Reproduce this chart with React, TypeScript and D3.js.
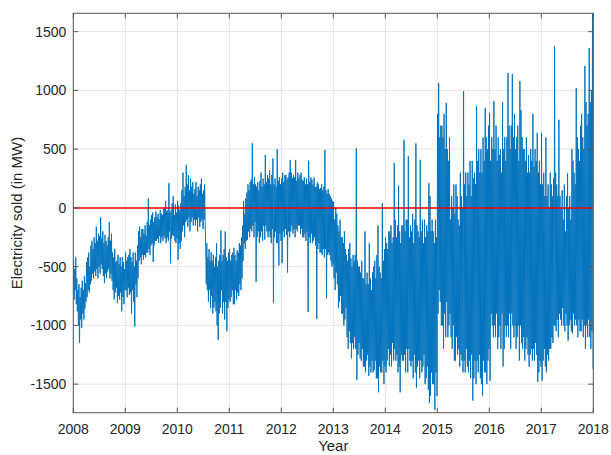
import React from 'react';
import * as d3 from 'd3';

// Electricity sold (MW) at ~8 readings per month
const sold2008 = [
  -450, -780, -520, -700, -420, -820, -600, -880, -700, -1000, -650, -1150, -760, -950, -680, -1020,
  -620, -900, -700, -950, -580, -860, -640, -800, -460, -760, -420, -700, -380, -720, -500, -650,
  -320, -620, -280, -560, -350, -600, -250, -540, -300, -580, -160, -520, -280, -600, -220, -500,
  -240, -560, -80, -480, -260, -520, -200, -580, -300, -640, -230, -560, -280, -600, -320, -540,
  -250, -520, -120, -600, -280, -560, -220, -620, -380, -700, -420, -780, -350, -720, -460, -680,
  -450, -810, -400, -750, -480, -780, -420, -720, -500, -880, -420, -760, -460, -820, -520, -700,
];
const sold2009 = [
  -380, -700, -450, -760, -420, -680, -400, -740, -350, -720, -420, -900, -460, -700, -380, -800,
  -500, -1010, -380, -650, -450, -760, -320, -600, -200, -450, -160, -420, -250, -480, -180, -400,
  -180, -440, -220, -400, -150, -420, -240, -380, -120, -380, 80, -350, -150, -400, -100, -320,
  -60, -300, -40, -460, -120, -320, -80, -280, -30, -280, -80, -260, -50, -300, -100, -240,
  -20, -300, -50, -250, -60, -280, -10, -240, 0, -260, 60, -300, -30, -250, -20, -280,
  210, -200, -40, -470, -20, -260, 40, -230, 100, -240, -60, -280, 30, -300, -40, -260,
];
const sold2010 = [
  60, -440, 20, -300, -20, -350, 40, -280, 150, -200, 300, -150, 100, -250, 180, -120,
  366, -100, 200, -160, 280, -80, 150, -200, 250, -120, 180, -80, 220, -150, 120, -100,
  160, -150, 220, -100, 100, -200, 180, -80, 150, -160, 200, -120, 250, -100, 120, -180,
  150, -100, 200, -150, -350, -650, -300, -700, -420, -800, -350, -700, -450, -850, -380, -750,
  -450, -900, -400, -850, -500, -800, -420, -880, -300, -1000, -500, -1123, -450, -900, -400, -850,
  -190, -700, -450, -900, -400, -800, -350, -950, -200, -800, -420, -1050, -450, -850, -380, -780,
];
const sold2011 = [
  -350, -800, -450, -760, -400, -700, -380, -820, -340, -820, -400, -700, -450, -780, -360, -720,
  -380, -750, -300, -650, -320, -700, -250, -600, -150, -450, 60, -300, -50, -350, 80, -280,
  130, -270, 200, -200, 150, -250, 220, -180, 240, -200, 550, -150, 200, -250, 260, -120,
  200, -630, 180, -250, 220, -200, 150, -300, 230, -250, 300, -200, 180, -280, 250, -150,
  200, -270, 450, -150, 220, -200, 280, -250, 250, -200, 320, -250, 200, -300, 280, -180,
  420, -810, 200, -250, 250, -200, 180, -300, 500, -300, 230, -490, 260, -220, 200, -280,
];
const sold2012 = [
  250, -470, 300, -200, 220, -250, 280, -180, 280, -230, 240, -550, 260, -200, 300, -250,
  408, -200, 300, -150, 250, -220, 280, -180, 260, -250, 408, -180, 230, -200, 300, -150,
  250, -150, 280, -220, 300, -180, 240, -250, 230, -250, 260, -220, 200, -280, 250, -200,
  200, -885, 400, -250, 220, -300, 260, -220, 240, -300, 200, -280, 260, -250, 180, -320,
  180, -945, 220, -350, 200, -300, 160, -380, 170, -380, 200, -400, 150, -350, 180, -420,
  493, -350, 150, -770, 120, -400, 160, -380, 120, -400, 100, -450, 80, -500, 60, -480,
];
const sold2013 = [
  50, -600, -100, -700, 0, -550, -50, -650, -150, -850, -200, -800, -100, -750, -250, -900,
  -250, -900, -300, -1000, -200, -950, -350, -850, -400, -1100, -450, -1200, -350, -1050, -300, -1150,
  -430, -1280, -500, -1150, -400, -1200, -450, -1100, -400, -1200, 508, -1463, -450, -1250, -500, -1150,
  -500, -1280, -550, -1300, -450, -1200, -600, -1350, -600, -1350, -200, -1400, -650, -1300, -550, -1250,
  -650, -1430, -300, -1350, -600, -1400, -700, -1300, -550, -1400, -500, -1380, -450, -1300, -600, -1450,
  -400, -1450, -150, -1570, -500, -1350, -550, -1400, -600, -1400, 40, -1300, -450, -1500, -350, -1350,
];
const sold2014 = [
  -250, -1400, -300, -1300, -350, -1200, -200, -1350, -200, -1250, -150, -1350, -300, -1150, -250, -1300,
  383, -1200, -100, -1300, -250, -1250, -150, -1400, 190, -1350, -200, -1570, -300, -1250, -150, -1300,
  -150, -1300, 580, -1250, -200, -1400, -100, -1200, -100, -1400, 440, -1200, -250, -1300, -150, -1350,
  -200, -1300, -50, -1450, -300, -1250, -100, -1400, 550, -1530, -150, -1350, -200, -1300, -250, -1450,
  410, -1300, -200, -1400, -100, -1350, -300, -1250, -100, -1500, -250, -1450, -150, -1350, -200, -1550,
  210, -1660, 100, -1600, -200, -1400, -100, -1500, -200, -1500, -300, -1720, -100, -1400, -250, -1600,
];
const sold2015 = [
  800, -900, 1063, -700, 600, -800, 700, -1000, 700, -1000, 600, -1200, 800, -900, 500, -1100,
  893, -800, 500, -1100, 400, -1000, 600, -900, -100, -1100, 100, -1200, 0, -1000, 200, -1300,
  -50, -1300, 200, -1100, 100, -1250, -100, -1200, -150, -1350, 300, -1250, 100, -1300, 0, -1400,
  995, -1300, 200, -1400, 300, -1200, 100, -1350, 300, -1400, 200, -1300, 400, -1450, 100, -1250,
  400, -1640, 250, -1450, 300, -1300, 200, -1500, 866, -1300, 400, -1400, 500, -1250, 300, -1450,
  500, -1500, 300, -1600, 600, -1300, 400, -1400, 850, -1400, 600, -1500, 500, -1300, 700, -1200,
];
const sold2016 = [
  808, -1470, 400, -900, 600, -1000, 500, -1100, 908, -1000, 500, -1100, 700, -900, 400, -1200,
  600, -1100, 450, -1000, 500, -1200, 300, -900, 900, -1350, 500, -1200, 600, -1000, 400, -1100,
  600, -1000, 1148, -1100, 700, -900, 500, -1200, 700, -900, 1140, -1000, 600, -1100, 800, -1000,
  500, -1200, 600, -1100, 700, -1000, 400, -1300, 1080, -1000, 830, -1150, 600, -1200, 500, -1100,
  500, -1300, 400, -1200, 600, -1100, 300, -1250, 450, -1350, 300, -1250, 500, -1200, 400, -1300,
  800, -1200, 350, -1300, 500, -1150, 400, -1250, 638, -1480, 300, -1400, 400, -1300, 200, -1350,
];
const sold2017 = [
  638, -1470, 200, -1300, 300, -1200, 100, -1350, 600, -1400, 100, -1250, 200, -1300, 0, -1200,
  300, -1200, 200, -1100, 100, -1150, 250, -1000, 1378, -1000, 300, -1050, 200, -950, 100, -1100,
  750, -900, 100, -950, 0, -1000, 150, -850, -100, -1000, 200, -1050, -200, -900, 100, -1000,
  297, -1130, 0, -1000, 100, -950, -100, -1050, 500, -1070, 400, -900, 300, -1000, 200, -950,
  1020, -1000, 600, -1100, 500, -950, 400, -1050, 700, -1050, 800, -950, 600, -1100, 500, -1000,
  1208, -1200, 900, -1000, 700, -1100, 800, -950, 1360, -1100, 900, -1200, 1000, -1050, 1650, -1370,
];

const years = [2008, 2009, 2010, 2011, 2012, 2013, 2014, 2015, 2016, 2017];
const seriesByYear = [sold2008, sold2009, sold2010, sold2011, sold2012, sold2013, sold2014, sold2015, sold2016, sold2017];
const xTicks = [2008, 2009, 2010, 2011, 2012, 2013, 2014, 2015, 2016, 2017, 2018];
const yTicks = [-1500, -1000, -500, 0, 500, 1000, 1500];

const W = 611;
const H = 455;
const m = { left: 73.3, right: 611 - 593.3, top: 13.3, bottom: 455 - 412.7 };
const font = "'Liberation Sans', Arial, Helvetica, sans-serif";
const textCol = '#262626';

export default function App() {
  const points: [number, number][] = [];
  years.forEach((yr, i) => {
    const vals = seriesByYear[i];
    vals.forEach((v, k) => points.push([yr + (k + 0.5) / vals.length, v]));
  });

  const x = d3.scaleLinear().domain([2008, 2018]).range([m.left, W - m.right]);
  const y = d3.scaleLinear().domain([-1743, 1656]).range([H - m.bottom, m.top]);
  const line = d3.line<[number, number]>().x(d => x(d[0])).y(d => y(d[1]));

  const x0 = m.left, x1 = W - m.right, y0 = H - m.bottom, y1 = m.top;
  const tick = 5;

  return (
    <div style={{ position: 'absolute', left: 0, top: 0 }}>
      <svg width={W} height={H} viewBox={`0 0 ${W} ${H}`} style={{ display: 'block', background: '#fff' }}>
        <rect x={0} y={0} width={W} height={H} fill="#fff" />
        {/* grid */}
        <g stroke="#e3e3e3" strokeWidth={1}>
          {xTicks.map(t => <line key={'gx' + t} x1={x(t)} x2={x(t)} y1={y1} y2={y0} />)}
          {yTicks.map(t => <line key={'gy' + t} x1={x0} x2={x1} y1={y(t)} y2={y(t)} />)}
        </g>
        <defs>
          <clipPath id="plot"><rect x={x0} y={y1} width={x1 - x0} height={y0 - y1} /></clipPath>
        </defs>
        <g clipPath="url(#plot)">
          <path d={line(points) || ''} fill="none" stroke="#0072BD" strokeWidth={0.95} strokeLinejoin="round" />
          <line x1={x(2008)} x2={x(2018)} y1={y(0)} y2={y(0)} stroke="#FF0000" strokeWidth={1.5} />
        </g>
        {/* axes box and ticks */}
        <g stroke="#555" strokeWidth={1} fill="none">
          <rect x={x0} y={y1} width={x1 - x0} height={y0 - y1} />
          {xTicks.map(t => (
            <g key={'tx' + t}>
              <line x1={x(t)} x2={x(t)} y1={y0} y2={y0 - tick} />
              <line x1={x(t)} x2={x(t)} y1={y1} y2={y1 + tick} />
            </g>
          ))}
          {yTicks.map(t => (
            <g key={'ty' + t}>
              <line x1={x0} x2={x0 + tick} y1={y(t)} y2={y(t)} />
              <line x1={x1} x2={x1 - tick} y1={y(t)} y2={y(t)} />
            </g>
          ))}
        </g>
        <g fontFamily={font} fontSize={14} fill={textCol}>
          {xTicks.map(t => (
            <text key={'lx' + t} x={x(t)} y={y0 + 21} textAnchor="middle">{d3.format('d')(t)}</text>
          ))}
          {yTicks.map(t => (
            <text key={'ly' + t} x={x0 - 7} y={y(t) + 5} textAnchor="end">{t}</text>
          ))}
        </g>
        <text x={(x0 + x1) / 2} y={451} textAnchor="middle" fontFamily={font} fontSize={15} fill={textCol}>Year</text>
        <text transform={`translate(22,${(y0 + y1) / 2}) rotate(-90)`} textAnchor="middle" fontFamily={font} fontSize={15} fill={textCol}>
          Electricity sold (in MW)
        </text>
      </svg>
    </div>
  );
}
